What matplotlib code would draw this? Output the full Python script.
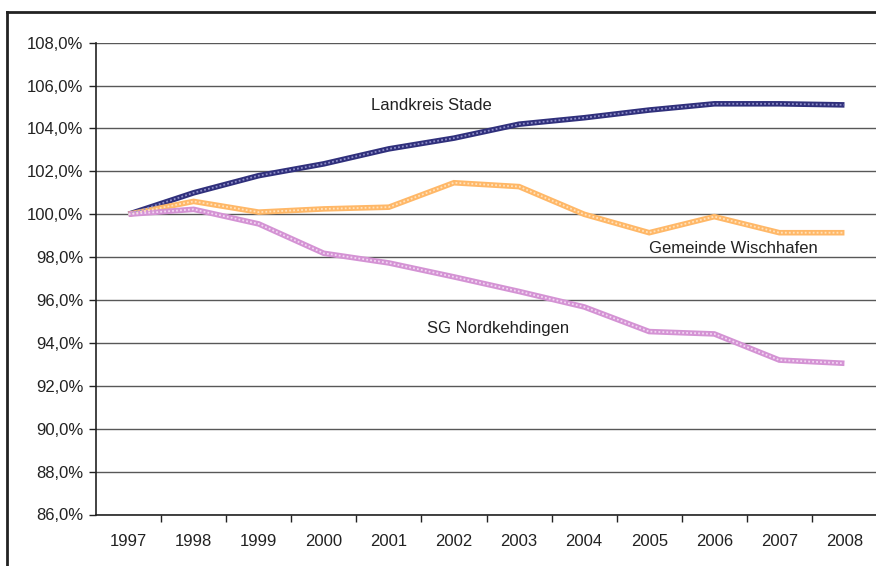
import matplotlib
matplotlib.use('Agg')
import matplotlib.pyplot as plt
from matplotlib.lines import Line2D
from matplotlib.ticker import FuncFormatter

# Bevölkerungsentwicklung, Index 1997 = 100 %
jahre = ['1997', '1998', '1999', '2000', '2001', '2002',
         '2003', '2004', '2005', '2006', '2007', '2008']
landkreis_stade = [100.0, 101.0, 101.8, 102.35, 103.05, 103.55,
                   104.2, 104.5, 104.86, 105.15, 105.15, 105.1]
gemeinde_wischhafen = [100.0, 100.6, 100.1, 100.25, 100.33, 101.47,
                       101.29, 100.0, 99.14, 99.89, 99.14, 99.14]
sg_nordkehdingen = [100.0, 100.23, 99.55, 98.18, 97.73, 97.08,
                    96.4, 95.68, 94.53, 94.42, 93.2, 93.05]

plt.rcParams['font.family'] = ['Liberation Sans', 'DejaVu Sans']
fs = 12

W, H = 876, 566
fig = plt.figure(figsize=(W / 100, H / 100), dpi=100)

# Achsenbereich in Pixeln (rechts leicht über den Rand hinaus)
left, right, top, bottom = 96, 877, 42.7, 514.5
ax = fig.add_axes([left / W, 1 - bottom / H, (right - left) / W, (bottom - top) / H])

x = list(range(len(jahre)))

def linie(werte, farbe, hell):
    ax.plot(x, werte, color=farbe, lw=4.0, solid_joinstyle='miter',
            solid_capstyle='butt', zorder=3)
    ax.plot(x, werte, color=hell, lw=1.3, linestyle=(0, (1, 1.2)), zorder=4)

linie(landkreis_stade, '#30307C', '#8E8EC8')
linie(gemeinde_wischhafen, '#FFB868', '#FFE2BC')
linie(sg_nordkehdingen, '#D493D4', '#F3D6F3')

ax.set_ylim(86, 108)
ax.set_xlim(-0.5, len(jahre) - 0.5)
ax.set_yticks(range(86, 109, 2))
ax.yaxis.set_major_formatter(FuncFormatter(lambda v, p: f'{v:.1f}%'.replace('.', ',')))
ax.grid(axis='y', color='#585858', lw=1.0)
ax.set_axisbelow(True)

ax.set_xticks(x)
ax.set_xticklabels(jahre)
ax.set_xticks([i + 0.5 for i in x[:-1]], minor=True)
ax.tick_params(axis='x', which='major', length=0, pad=14, labelsize=fs)
ax.tick_params(axis='x', which='minor', length=5, width=1, color='#222222')
ax.tick_params(axis='y', length=5, width=1, labelsize=fs, color='#222222', pad=4)
ax.tick_params(axis='both', labelcolor='#222222')

for s in ['top', 'right']:
    ax.spines[s].set_visible(False)
for s in ['left', 'bottom']:
    ax.spines[s].set_color('#222222')
    ax.spines[s].set_linewidth(1.2)

# Beschriftungen der Linien
ax.text(4.65, 105.05, 'Landkreis Stade', ha='center', va='center', fontsize=fs, color='#222222')
ax.text(9.29, 98.4, 'Gemeinde Wischhafen', ha='center', va='center', fontsize=fs, color='#222222')
ax.text(5.68, 94.67, 'SG Nordkehdingen', ha='center', va='center', fontsize=fs, color='#222222')

# Rahmen um die Grafik
fig.add_artist(Line2D([7 / W, 7 / W], [1 - 12 / H, 0], transform=fig.transFigure,
                      color='#222222', lw=2))
fig.add_artist(Line2D([7 / W, 1], [1 - 12 / H, 1 - 12 / H], transform=fig.transFigure,
                      color='#222222', lw=2))

fig.savefig('out.png', dpi=100)
